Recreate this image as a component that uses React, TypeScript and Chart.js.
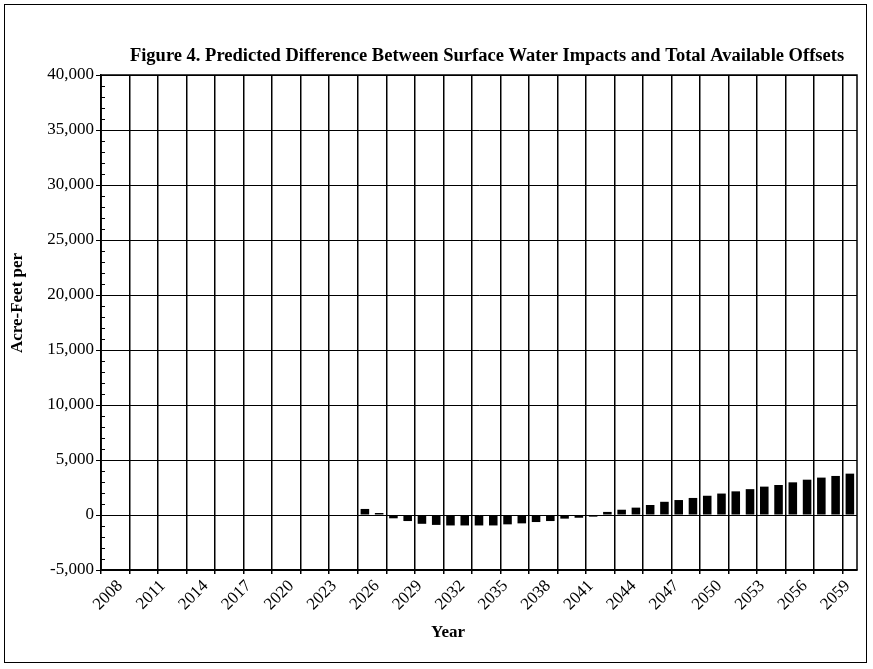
import React, { useEffect, useRef } from "react";
import { Chart, registerables } from "chart.js";

Chart.register(...registerables);

const TITLE = "Figure 4. Predicted Difference Between Surface Water Impacts and Total Available Offsets";
const Y_TITLE = "Acre-Feet per";
const X_TITLE = "Year";

const years: string[] = [
  "2008", "2009", "2010", "2011", "2012", "2013", "2014", "2015", "2016", "2017",
  "2018", "2019", "2020", "2021", "2022", "2023", "2024", "2025", "2026", "2027",
  "2028", "2029", "2030", "2031", "2032", "2033", "2034", "2035", "2036", "2037",
  "2038", "2039", "2040", "2041", "2042", "2043", "2044", "2045", "2046", "2047",
  "2048", "2049", "2050", "2051", "2052", "2053", "2054", "2055", "2056", "2057",
  "2058", "2059", "2060",
];

const difference: (number | null)[] = [
  null, null, null, null, null, null, null, null, null, null,
  null, null, null, null, null, null, null, null, 550, 180,
  -300, -550, -800, -900, -950, -950, -950, -950, -850, -760,
  -640, -550, -330, -250, -150, 280, 480, 670, 910, 1200,
  1360, 1550, 1750, 1950, 2150, 2350, 2580, 2730, 2970, 3210,
  3400, 3550, 3760,
];

const Y_MIN = -5000;
const Y_MAX = 40000;
const Y_STEP = 5000;
const Y_MINOR = 1000;

const SERIF = '"Liberation Serif", "Times New Roman", serif';

const framePlugin = {
  id: "framePlugin",
  afterDraw(chart: any) {
    const { ctx, chartArea } = chart;
    const y = chart.scales.y;
    ctx.save();
    ctx.strokeStyle = "#000";
    ctx.lineWidth = 1.5;
    ctx.strokeRect(chartArea.left, chartArea.top, chartArea.right - chartArea.left, chartArea.bottom - chartArea.top);
    ctx.lineWidth = 1;
    for (let v = Y_MIN; v <= Y_MAX; v += Y_MINOR) {
      if (v % Y_STEP === 0) continue;
      const py = Math.round(y.getPixelForValue(v)) + 0.5;
      ctx.beginPath();
      ctx.moveTo(chartArea.left, py);
      ctx.lineTo(chartArea.left + 4, py);
      ctx.stroke();
    }
    ctx.fillStyle = "#000";
    ctx.textAlign = "center";
    ctx.textBaseline = "middle";
    ctx.font = `bold 18.5px ${SERIF}`;
    ctx.fillText(TITLE, 487, 56);
    ctx.font = `bold 17px ${SERIF}`;
    ctx.fillText(X_TITLE, 448, 633);
    ctx.translate(18, 303);
    ctx.rotate(-Math.PI / 2);
    ctx.fillText(Y_TITLE, 0, 0);
    ctx.restore();
  },
};

export default function App() {
  const canvasRef = useRef<HTMLCanvasElement | null>(null);

  useEffect(() => {
    const canvas = canvasRef.current;
    if (!canvas) return;
    const chart = new Chart(canvas, {
      type: "bar",
      data: {
        labels: years,
        datasets: [
          {
            label: "Difference",
            data: difference,
            backgroundColor: "#000",
            borderWidth: 0,
            barPercentage: 0.6,
            categoryPercentage: 1,
          },
        ],
      },
      options: {
        responsive: false,
        animation: false,
        layout: { padding: { left: 0, right: 16, top: 75, bottom: 0 } },
        plugins: {
          legend: { display: false },
          tooltip: { enabled: false },
          title: { display: false },
        },
        scales: {
          x: {
            type: "category",
            offset: true,
            grid: {
              offset: true,
              color: (c: any) => (c.index % 2 === 0 ? "#000" : "rgba(0,0,0,0)"),
              lineWidth: 1.5,
              drawTicks: true,
              tickLength: 4,
            },
            border: { display: true, color: "#000", width: 1.5 },
            ticks: {
              autoSkip: false,
              maxRotation: 45,
              minRotation: 45,
              color: "#000",
              padding: 2,
              labelOffset: 12,
              font: { family: SERIF, size: 17 },
              callback: (_v: any, i: number) => (i % 3 === 0 ? years[i] : ""),
            },
            afterFit: (s: any) => {
              s.height = 99;
            },
          },
          y: {
            min: Y_MIN,
            max: Y_MAX,
            ticks: {
              stepSize: Y_STEP,
              color: "#000",
              padding: 2,
              font: { family: SERIF, size: 17 },
              callback: (v: any) => Number(v).toLocaleString("en-US"),
            },
            grid: { color: "#000", lineWidth: 1, tickLength: 5 },
            border: { display: true, color: "#000", width: 1.5 },
            afterFit: (s: any) => {
              s.width = 101;
            },
          },
        },
      },
      plugins: [framePlugin],
    });
    return () => chart.destroy();
  }, []);

  return (
    <div style={{ position: "absolute", left: 0, top: 0, width: 873, height: 669, background: "#fff" }}>
      <div
        style={{
          position: "absolute",
          left: 4,
          top: 4,
          width: 863,
          height: 659,
          border: "1.5px solid #000",
          boxSizing: "border-box",
          pointerEvents: "none",
        }}
      />
      <canvas ref={canvasRef} width={873} height={669} style={{ position: "absolute", left: 0, top: 0 }} />
    </div>
  );
}
